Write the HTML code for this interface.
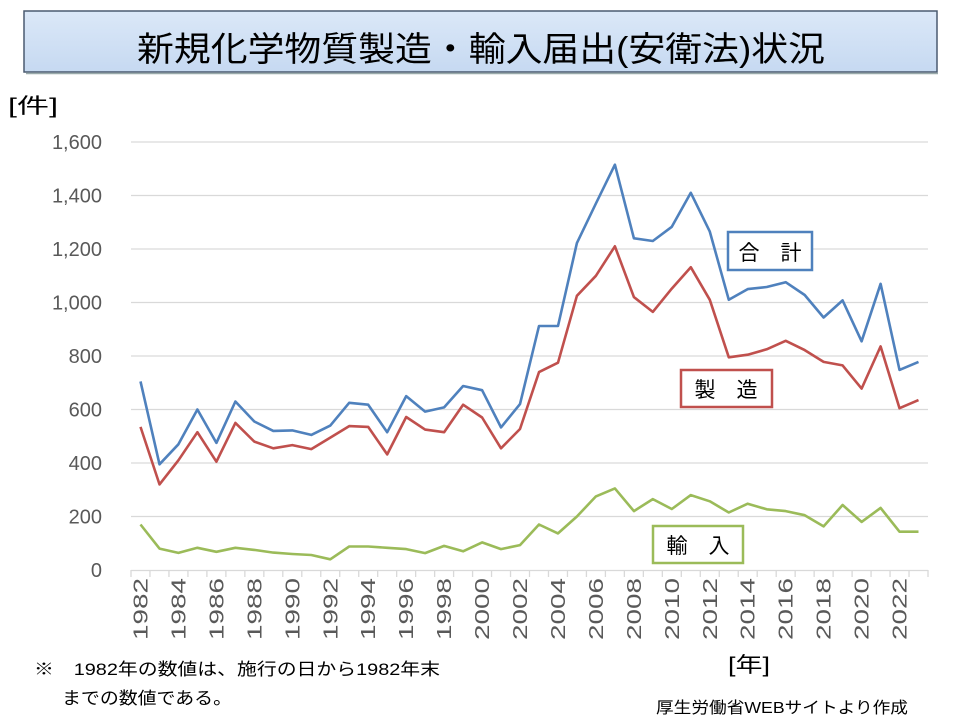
<!DOCTYPE html>
<html><head><meta charset="utf-8"><style>
html,body{margin:0;padding:0;background:#fff;width:960px;height:720px;overflow:hidden}
</style></head><body>
<svg id="s" width="960" height="720" xmlns="http://www.w3.org/2000/svg" font-family="'Liberation Sans','Noto Sans CJK JP',sans-serif">
<defs><linearGradient id="g" x1="0" y1="0" x2="0" y2="1"><stop offset="0" stop-color="#dbe8f8"/><stop offset="1" stop-color="#c6d9f1"/></linearGradient></defs>
<rect x="24" y="11" width="913" height="61" fill="url(#g)" stroke="#4a5a70" stroke-width="1.5"/>
<line x1="26" y1="73.5" x2="938" y2="73.5" stroke="#9aa" stroke-width="1.5"/>
<text x="137" y="61" font-size="34" textLength="688" lengthAdjust="spacingAndGlyphs" fill="#000">新規化学物質製造・輸入届出(安衛法)状況</text>
<text x="8" y="113" font-size="21" textLength="50" lengthAdjust="spacingAndGlyphs">[件]</text>
<g id="grid"></g>
<g id="lines"></g>
<rect x="728" y="232" width="84" height="38" fill="#fff" stroke="#4f81bd" stroke-width="2.5"/>
<text x="770" y="260" font-size="21" text-anchor="middle">合　計</text>
<rect x="681" y="370" width="91" height="37" fill="#fff" stroke="#c0504d" stroke-width="2.5"/>
<text x="726" y="397" font-size="21" text-anchor="middle">製　造</text>
<rect x="653" y="526" width="90" height="37" fill="#fff" stroke="#9bbb59" stroke-width="2.5"/>
<text x="698" y="553" font-size="21" text-anchor="middle">輸　入</text>
<text x="728" y="672" font-size="21" textLength="42" lengthAdjust="spacingAndGlyphs">[年]</text>
<text x="34" y="675" font-size="17" textLength="406" lengthAdjust="spacingAndGlyphs">※　1982年の数値は、施行の日から1982年末</text>
<text x="62" y="704" font-size="17" textLength="170" lengthAdjust="spacingAndGlyphs">までの数値である。</text>
<text x="656" y="713" font-size="16" textLength="252" lengthAdjust="spacingAndGlyphs">厚生労働省WEBサイトより作成</text>
</svg>
<script>
var NS="http://www.w3.org/2000/svg",s=document.getElementById('s');
function el(p,t,a,txt){var e=document.createElementNS(NS,t);for(var k in a)e.setAttribute(k,a[k]);if(txt!=null)e.textContent=txt;p.appendChild(e);return e;}
var gr=document.getElementById('grid'),ln=document.getElementById('lines');
function Y(v){return 570-v*428/1600;}
var step=(928-131)/42;function X(i){return 131+step*(i+0.5);}
for(var v=200;v<=1600;v+=200){el(gr,'line',{x1:131,x2:928,y1:Y(v),y2:Y(v),stroke:'#d9d9d9','stroke-width':1.3});}
for(var v=0;v<=1600;v+=200){el(gr,'text',{x:102,y:Y(v)+7,'font-size':20,fill:'#595959','text-anchor':'end'},v>=1000?(Math.floor(v/1000)+','+String(v%1000).padStart(3,'0')):String(v));}
el(gr,'line',{x1:131,x2:928,y1:570.5,y2:570.5,stroke:'#d9d9d9','stroke-width':1.3});
for(var i=0;i<=42;i++){var x=131+step*i;el(gr,'line',{x1:x,x2:x,y1:570,y2:577,stroke:'#d9d9d9','stroke-width':1.3});}
for(var i=0;i<41;i+=2){var x=X(i);el(gr,'text',{x:0,y:0,'font-size':20,fill:'#595959','text-anchor':'end',textLength:62,lengthAdjust:'spacingAndGlyphs',transform:'translate('+(x+7)+',578) rotate(-90)'},String(1982+i));}
var T=[705,395,470,600,475,630,555,520,522,505,540,625,618,515,650,592,608,688,672,533,620,912,912,1222,1370,1515,1240,1230,1283,1410,1265,1010,1050,1058,1076,1028,944,1008,855,1070,748,778];
var M=[535,320,410,515,405,550,480,455,467,452,495,538,535,432,572,525,515,618,570,455,527,740,775,1025,1100,1210,1020,965,1052,1132,1010,795,805,825,857,822,778,765,678,836,605,635];
var I=[170,80,64,83,68,83,75,65,60,56,40,88,88,83,78,63,90,70,103,78,93,170,137,200,275,305,220,265,228,280,257,215,248,227,220,205,163,243,180,232,143,143];
function pl(d,c){el(ln,'polyline',{points:d.map(function(v,i){return X(i).toFixed(1)+','+Y(v).toFixed(1)}).join(' '),fill:'none',stroke:c,'stroke-width':2.6,'stroke-linejoin':'round'});}
pl(I,'#9bbb59');pl(M,'#c0504d');pl(T,'#4f81bd');
</script>
</body></html>
